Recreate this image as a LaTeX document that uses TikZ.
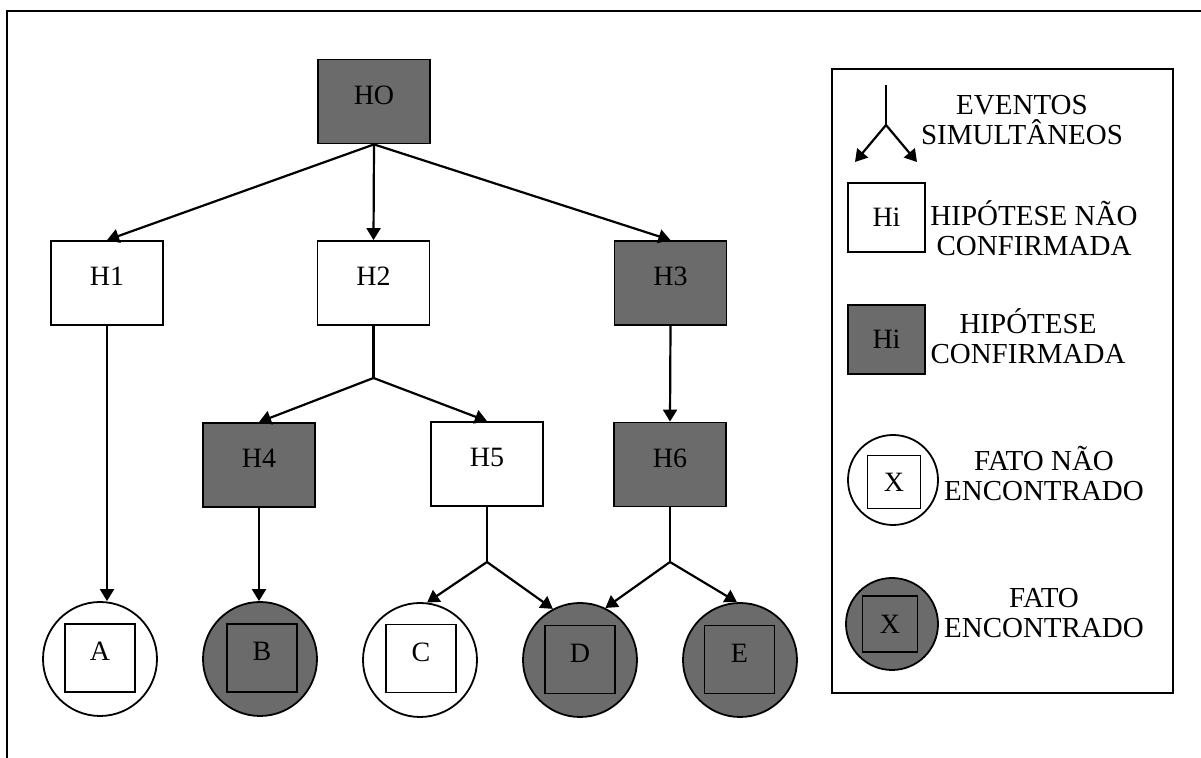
\documentclass[tikz,border=0pt]{standalone}
\usepackage{fontspec}
\setmainfont{Liberation Serif}
\usetikzlibrary{arrows.meta}
\definecolor{shade}{gray}{0.42}
\begin{document}
\begin{tikzpicture}[x=0.5pt,y=-0.5pt,
  hyp/.style={draw, line width=0.9pt, minimum width=56pt, minimum height=42pt, inner sep=0pt,
    font=\fontsize{14}{16}\selectfont, text height=9pt, text depth=6pt},
  shyp/.style={hyp, fill=shade},
  fact/.style={circle, draw, line width=0.9pt, minimum size=57pt, inner sep=0pt},
  shfact/.style={fact, fill=shade},
  sq/.style={draw, line width=0.9pt, minimum width=35pt, minimum height=34pt, inner sep=0pt,
    font=\fontsize{14}{16}\selectfont, text height=9pt, text depth=6pt},
  conn/.style={line width=1.1pt},
  arr/.style={conn, -{Triangle[length=6pt,width=7pt]}},
  legtxt/.style={align=center, font=\fontsize{14.5}{15}\selectfont, inner sep=0pt},
  legbox/.style={draw, line width=0.9pt, minimum width=38.5pt, minimum height=34.5pt, inner sep=0pt,
    font=\fontsize{14}{16}\selectfont}
]
\useasboundingbox (0,0) rectangle (1201,758);
% outer frame (only top and left visible)
\draw[line width=1.3pt] (7,758) -- (7,11) -- (1201,11);

% hypotheses
\node[shyp] (HO) at (374,101.5) {HO};
\node[hyp]  (H1) at (107,283) {H1};
\node[hyp]  (H2) at (373.5,283) {H2};
\node[shyp] (H3) at (670.5,283) {H3};
\node[shyp] (H4) at (259,465) {H4};
\node[hyp]  (H5) at (487,464) {H5};
\node[shyp] (H6) at (670,464.5) {H6};

% facts
\node[fact]   (A) at (100,659) {};
\node[sq]     (Asq) at (100,658) {A};
\node[shfact] (B) at (260,659) {};
\node[sq]     (Bsq) at (262,658) {B};
\node[fact]   (C) at (420,660) {};
\node[sq]     (Csq) at (421,658.5) {C};
\node[shfact] (D) at (580,660) {};
\node[sq]     (Dsq) at (580,659.5) {D};
\node[shfact] (E) at (740,660) {};
\node[sq]     (Esq) at (739.5,659.5) {E};

% connectors
\draw[arr] (HO.south) -- (H1.north);
\draw[arr] (HO.south) -- (H2.north);
\draw[arr] (HO.south) -- (H3.north);
\draw[arr] (H1.south) -- (H1.south |- A.north);
\coordinate (f2) at (373.5,378);
\draw[conn] (H2.south) -- (f2);
\draw[arr] (f2) -- (H4.north);
\draw[arr] (f2) -- (H5.north);
\draw[arr] (H3.south) -- (H6.north);
\draw[arr] (H4.south) -- (H4.south |- B.north);
\coordinate (f5) at (487,562);
\draw[conn] (H5.south) -- (f5);
\draw[arr] (f5) -- (C.83);
\draw[arr] (f5) -- (D.118);
\coordinate (f6) at (670,562);
\draw[conn] (H6.south) -- (f6);
\draw[arr] (f6) -- (D.64);
\draw[arr] (f6) -- (E.93);

% legend
\node[draw, line width=0.9pt, minimum width=170.5pt, minimum height=312pt, inner sep=0pt] (leg) at (1002.5,381) {};
\coordinate (ls) at (886,85);
\coordinate (lf) at (886,125);
\coordinate (ll) at (855,162);
\coordinate (lr) at (917,162);
\draw[conn] (ls) -- (lf);
\draw[arr] (lf) -- (ll);
\draw[arr] (lf) -- (lr);
\node[legtxt] (t1) at (1022,120) {EVENTOS\\SIMULTÂNEOS};

\node[legbox] (lh1) at (886.5,217.5) {Hi};
\node[legtxt] (t2) at (1034,228) {HIPÓTESE NÃO\\CONFIRMADA};

\node[legbox, fill=shade] (lh2) at (886.5,339.5) {Hi};
\node[legtxt] (t3) at (1028,336) {HIPÓTESE\\CONFIRMADA};

\node[circle, draw, line width=0.9pt, minimum size=45pt, inner sep=0pt] (lc1) at (893,480) {};
\node[draw, line width=0.9pt, minimum size=26.5pt, inner sep=0pt, font=\fontsize{14}{16}\selectfont] (lx1) at (894,482) {X};
\node[legtxt] (t4) at (1044,474) {FATO NÃO\\ENCONTRADO};

\node[circle, draw, line width=0.9pt, minimum size=46pt, inner sep=0pt, fill=shade] (lc2) at (892,624) {};
\node[draw, line width=0.9pt, minimum width=27.5pt, minimum height=28pt, inner sep=0pt, font=\fontsize{14}{16}\selectfont] (lx2) at (890,624) {X};
\node[legtxt] (t5) at (1044,613) {FATO\\ENCONTRADO};
\end{tikzpicture}
\end{document}
